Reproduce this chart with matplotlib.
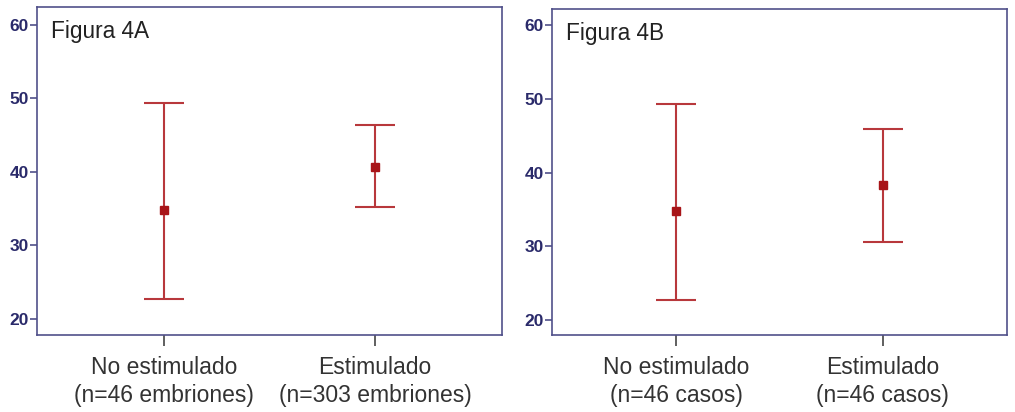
import matplotlib.pyplot as plt
import numpy as np

plt.rcParams['font.family'] = ['Liberation Sans', 'DejaVu Sans']

# panel A
labels_a = ['No estimulado\n(n=46 embriones)', 'Estimulado\n(n=303 embriones)']
mean_a = [34.8, 40.7]
low_a = [22.7, 35.2]
high_a = [49.3, 46.3]

# panel B
labels_b = ['No estimulado\n(n=46 casos)', 'Estimulado\n(n=46 casos)']
mean_b = [34.8, 38.3]
low_b = [22.7, 30.6]
high_b = [49.3, 45.9]

spine_col = '#50508a'
tick_col = '#2a2a6a'
bar_col = '#b8383c'
dot_col = '#a81418'

fig = plt.figure(figsize=(10.15, 4.12), dpi=100)
axA = fig.add_axes([0.0365, 0.187, 0.458, 0.796])
axB = fig.add_axes([0.5438, 0.187, 0.448, 0.791])


def draw(ax, labels, mean, low, high, title, ylim):
    x = np.arange(1, len(mean) + 1)
    mean = np.array(mean)
    yerr = [mean - np.array(low), np.array(high) - mean]
    ax.errorbar(x, mean, yerr=yerr, fmt='s', color=dot_col, ecolor=bar_col,
                elinewidth=1.5, capsize=14.4, capthick=1.5, markersize=6)
    ax.set_xlim(0.4, 2.6)
    ax.set_ylim(*ylim)
    ax.set_yticks([20, 30, 40, 50, 60])
    ax.set_xticks(x)
    ax.set_xticklabels(labels, fontsize=16.5, color='#333333', linespacing=1.3)
    for s in ax.spines.values():
        s.set_color(spine_col)
        s.set_linewidth(1.2)
    ax.tick_params(axis='y', direction='out', length=5, width=1.2, color=spine_col,
                   labelcolor=tick_col, labelsize=12.5, pad=1)
    ax.tick_params(axis='x', direction='out', length=8, width=1.2, color='#444444', pad=7)
    for t in ax.get_yticklabels():
        t.set_fontweight('bold')
    ax.text(0.03, 0.96, title, transform=ax.transAxes, fontsize=16.3,
            color='#222222', ha='left', va='top')


draw(axA, labels_a, mean_a, low_a, high_a, 'Figura 4A', (17.8, 62.4))
draw(axB, labels_b, mean_b, low_b, high_b, 'Figura 4B', (18.0, 62.2))

fig.savefig('out.png', dpi=100)
